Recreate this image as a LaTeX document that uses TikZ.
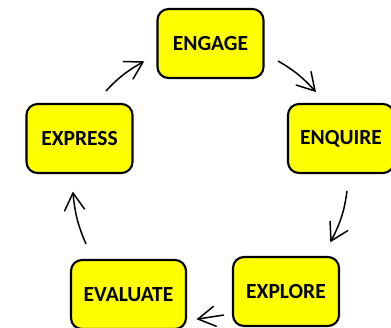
\documentclass[tikz,border=0pt]{standalone}
\usepackage{fontspec}
\setmainfont{Carlito}
\usetikzlibrary{arrows.meta,bending}
\definecolor{stageyellow}{RGB}{255,255,0}
\pgfdeclarearrow{
  name=VBarb,
  defaults={length=12pt,width=20pt},
  setup code={
    \pgfarrowssettipend{0pt}
    \pgfarrowssetlineend{-0.5\pgflinewidth}
    \pgfarrowssavethe\pgfarrowlength
    \pgfarrowssavethe\pgfarrowwidth
    \pgfarrowssavethe\pgflinewidth
  },
  parameters={\the\pgfarrowlength,\the\pgfarrowwidth,\the\pgflinewidth},
  drawing code={
    \pgfsetdash{}{0pt}
    \pgfsetroundcap
    \pgfsetmiterjoin
    \pgfpathmoveto{\pgfpoint{-\pgfarrowlength}{0.5\pgfarrowwidth}}
    \pgfpathlineto{\pgfpointorigin}
    \pgfpathlineto{\pgfpoint{-\pgfarrowlength}{-0.5\pgfarrowwidth}}
    \pgfusepathqstroke
  }
}
\tikzset{
  stagebox/.style={draw=black,fill=stageyellow,line width=2.1pt,rounded corners=11pt,inner sep=0pt,font=\fontsize{21.5}{24}\selectfont\bfseries,text=black,anchor=center},
  flow/.style={draw=black,line width=1.5pt,-{VBarb[length=17pt,width=20pt,flex=0]}}
}
\begin{document}
\begin{tikzpicture}[x=1pt,y=-1pt]
\clip (0,0) rectangle (391,327);
\useasboundingbox (0,0) rectangle (391,327);
\node[stagebox,minimum width=106pt,minimum height=69pt] (engage) at (210.5,43.5) {ENGAGE};
\node[stagebox,minimum width=106pt,minimum height=69pt] (express) at (79.5,138.5) {EXPRESS};
\node[stagebox,minimum width=106pt,minimum height=69pt] (enquire) at (341,138.5) {ENQUIRE};
\node[stagebox,minimum width=106pt,minimum height=69pt] (explore) at (286,291.5) {EXPLORE};
\node[stagebox,minimum width=115pt,minimum height=69pt] (evaluate) at (128.5,294.5) {EVALUATE};
\coordinate (a1) at (278,61); \coordinate (a2) at (315,91);
\coordinate (b1) at (347,191); \coordinate (b2) at (331,241);
\coordinate (c1) at (224,315); \coordinate (c2) at (198,319);
\coordinate (d1) at (86,244); \coordinate (d2) at (73,193);
\coordinate (e1) at (106,91); \coordinate (e2) at (143,62);
\draw[flow] (a1) to[bend left=9] (a2);
\draw[flow] (b1) to[bend left=10] (b2);
\draw[flow] (c1) to (c2);
\draw[flow] (d1) to[bend left=9] (d2);
\draw[flow] (e1) to[bend left=9] (e2);
\end{tikzpicture}
\end{document}
